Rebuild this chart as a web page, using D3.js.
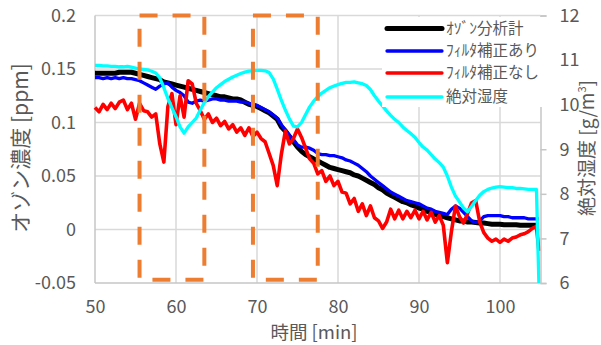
<!DOCTYPE html>
<html>
<head>
<meta charset="utf-8">
<script src="https://cdn.jsdelivr.net/npm/d3@7"></script>
<style>
  body { margin: 0; background: #fff; }
  svg { display: block; font-family: 'Noto Sans CJK JP', 'Noto Sans', sans-serif; }
</style>
</head>
<body>
<div id="chart"></div>
<script>
// sample times [min]
const times = [50,50.5,51,51.5,52,52.5,53,53.5,54,54.5,
  55,55.5,56,56.5,57,57.5,58,58.5,59,59.5,
  60,60.5,61,61.5,62,62.5,63,63.5,64,64.5,
  65,65.5,66,66.5,67,67.5,68,68.5,69,69.5,
  70,70.5,71,71.5,72,72.5,73,73.5,74,74.5,
  75,75.5,76,76.5,77,77.5,78,78.5,79,79.5,
  80,80.5,81,81.5,82,82.5,83,83.5,84,84.5,
  85,85.5,86,86.5,87,87.5,88,88.5,89,89.5,
  90,90.5,91,91.5,92,92.5,93,93.5,94,94.5,
  95,95.5,96,96.5,97,97.5,98,98.5,99,99.5,
  100,100.5,101,101.5,102,102.5,103,103.5,104,104.5,104.8];

// ozone analyzer [ppm]
const ozoneMeter = [.146,.146,.146,.146,.146,.146,.147,.147,.147,.147,
  .146,.145,.144,.143,.142,.141,.140,.138,.137,.136,
  .135,.134,.133,.132,.131,.130,.129,.128,.127,.126,
  .125,.124,.124,.123,.122,.122,.121,.119,.117,.116,
  .115,.113,.111,.109,.106,.103,.096,.092,.087,.082,
  .077,.073,.070,.068,.066,.064,.062,.060,.058,.057,
  .056,.055,.054,.053,.051,.050,.048,.046,.044,.042,
  .039,.037,.034,.032,.030,.028,.026,.025,.023,.022,
  .020,.019,.017,.016,.014,.013,.012,.011,.010,.009,
  .008,.008,.007,.007,.0065,.006,.006,.0055,.005,.005,
  .005,.0045,.0045,.0045,.0045,.004,.004,.004,.004,.004,.004];

// sensor with filter correction [ppm]
const withCorrection = [.142,.142,.141,.142,.141,.142,.141,.142,.141,.141,
  .140,.139,.137,.135,.133,.131,.134,.136,.137,.133,
  .130,.128,.125,.119,.118,.120,.121,.120,.121,.122,
  .122,.121,.121,.120,.120,.120,.119,.119,.118,.117,
  .116,.114,.112,.110,.107,.104,.098,.093,.088,.084,
  .079,.077,.077,.076,.074,.071,.070,.070,.069,.069,
  .068,.067,.065,.064,.062,.060,.057,.054,.050,.047,
  .044,.041,.038,.035,.033,.031,.029,.027,.026,.025,
  .024,.022,.020,.019,.017,.016,.015,.014,.019,.022,
  .020,.016,.012,.008,.0065,.008,.012,.013,.013,.013,
  .013,.012,.012,.011,.011,.011,.011,.010,.010,.010,.010];

// sensor without filter correction [ppm]
const withoutCorrection = [.114,.110,.117,.112,.118,.113,.119,.121,.112,.118,
  .103,.118,.111,.110,.105,.108,.080,.063,.115,.127,
  .098,.125,.105,.139,.136,.118,.111,.103,.108,.100,
  .104,.097,.101,.094,.098,.091,.095,.088,.095,.087,
  .091,.085,.082,.071,.060,.041,.070,.092,.080,.085,
  .094,.086,.076,.066,.062,.052,.055,.045,.050,.041,
  .045,.035,.034,.024,.029,.017,.024,.013,.022,.011,
  .008,.001,.007,.019,.010,.018,.010,.017,.011,.018,
  .010,.017,.009,.016,.007,.013,.004,-.031,-.002,.022,
  .012,.006,.015,.025,.027,.007,-.003,-.008,-.011,-.009,
  -.012,-.009,-.011,-.008,-.007,-.005,-.004,-.002,.001,.003,-.020];

// absolute humidity [g/m3]
const humidity = [10.88,10.88,10.87,10.87,10.86,10.86,10.85,10.85,10.86,10.84,
  10.82,10.80,10.79,10.78,10.75,10.71,10.60,10.38,10.14,9.93,
  9.73,9.50,9.36,9.50,9.60,9.70,9.88,10.05,10.18,10.28,
  10.38,10.45,10.52,10.57,10.62,10.66,10.70,10.73,10.75,10.76,
  10.77,10.77,10.76,10.72,10.58,10.35,10.10,9.88,9.68,9.52,
  9.50,9.60,9.78,9.95,10.08,10.18,10.26,10.32,10.38,10.42,
  10.45,10.48,10.50,10.50,10.51,10.49,10.47,10.43,10.34,10.20,
  10.08,9.97,9.86,9.76,9.67,9.60,9.50,9.42,9.35,9.27,
  9.15,9.05,8.98,8.88,8.78,8.70,8.60,8.40,8.15,7.95,
  7.82,7.68,7.60,7.72,7.85,7.97,8.05,8.10,8.13,8.15,
  8.16,8.15,8.14,8.14,8.12,8.12,8.11,8.10,8.10,8.10,6.0];

const seriesNames = ['ｵｿﾞﾝ分析計', 'ﾌｨﾙﾀ補正あり', 'ﾌｨﾙﾀ補正なし', '絶対湿度'];
const seriesColors = ['#000000', '#0000ff', '#ff0000', '#00ffff'];

// highlighted time windows (dashed boxes)
const boxStart = [55.5, 69.5];
const boxEnd = [63.5, 77.5];

const xTicks = [50, 60, 70, 80, 90, 100];
const yTicks = [-0.05, 0, 0.05, 0.1, 0.15, 0.2];
const yTickLabels = ['-0.05', '0', '0.05', '0.1', '0.15', '0.2'];
const y2Ticks = [6, 7, 8, 9, 10, 11, 12];

const W = 601, H = 345;
const plotL = 95, plotR = 540.5, plotT = 15.5, plotB = 283;
const textColor = '#595959', gridColor = '#d9d9d9', axisColor = '#c6c6c6';

const svg = d3.select('#chart').append('svg')
  .attr('width', W).attr('height', H);

const x = d3.scaleLinear().domain([50, 105]).range([plotL, plotR]);
const y = d3.scaleLinear().domain([-0.05, 0.2]).range([plotB, plotT]);
const y2 = d3.scaleLinear().domain([6, 12]).range([plotB, plotT]);

// grid
svg.append('g').selectAll('line')
  .data(yTicks.filter(d => d > -0.05))
  .join('line')
  .attr('x1', plotL).attr('x2', plotR)
  .attr('y1', d => y(d)).attr('y2', d => y(d))
  .attr('stroke', gridColor).attr('stroke-width', 1.5);

svg.append('g').selectAll('line')
  .data(xTicks.filter(d => d > 50))
  .join('line')
  .attr('x1', d => x(d)).attr('x2', d => x(d))
  .attr('y1', plotT).attr('y2', plotB)
  .attr('stroke', gridColor).attr('stroke-width', 1.5);

// axis lines
svg.append('line').attr('x1', plotL).attr('x2', plotL).attr('y1', plotT).attr('y2', plotB)
  .attr('stroke', axisColor).attr('stroke-width', 1.5);
svg.append('line').attr('x1', plotL).attr('x2', plotR).attr('y1', plotB).attr('y2', plotB)
  .attr('stroke', axisColor).attr('stroke-width', 1.5);

// series
const pts = vals => times.map((t, i) => [t, vals[i]]);
const line1 = d3.line().x(d => x(d[0])).y(d => y(d[1]));
const line2 = d3.line().x(d => x(d[0])).y(d => y2(d[1]));

const series = [
  { vals: ozoneMeter, gen: line1, w: 5 },
  { vals: withCorrection, gen: line1, w: 3.3 },
  { vals: withoutCorrection, gen: line1, w: 3.6 },
  { vals: humidity, gen: line2, w: 3.3 }
];
series.forEach((s, i) => {
  svg.append('path')
    .attr('d', s.gen(pts(s.vals)))
    .attr('fill', 'none')
    .attr('stroke', seriesColors[i])
    .attr('stroke-width', s.w)
    .attr('stroke-linejoin', 'round');
});

// right axis
const rightAxis = svg.append('g')
  .attr('transform', `translate(${plotR},0)`)
  .call(d3.axisRight(y2).tickValues(y2Ticks).tickSize(6).tickPadding(13).tickFormat(d3.format('d')));
rightAxis.select('.domain').attr('stroke', axisColor).attr('stroke-width', 1.5);
rightAxis.selectAll('.tick line').attr('stroke', axisColor).attr('stroke-width', 1.5);
rightAxis.selectAll('.tick text').attr('fill', textColor).style('font-size', '18px')
  .style('font-family', "'Noto Sans CJK JP', sans-serif");

// legend
const legend = svg.append('g');
legend.append('rect').attr('x', 382).attr('y', 17).attr('width', 166).attr('height', 90).attr('fill', '#fff');
const rowY = [28.5, 51, 73, 97];
seriesNames.forEach((name, i) => {
  legend.append('line')
    .attr('x1', 387).attr('x2', 442).attr('y1', rowY[i]).attr('y2', rowY[i])
    .attr('stroke', seriesColors[i]).attr('stroke-width', i === 0 ? 5 : 3.3)
    .attr('stroke-linecap', 'round');
  legend.append('text')
    .attr('x', 446).attr('y', rowY[i]).attr('dy', '0.35em')
    .attr('fill', textColor).style('font-size', '15.5px')
    .text(name);
});

// dashed boxes
boxStart.forEach((s, i) => {
  svg.append('rect')
    .attr('x', x(s)).attr('y', y(0.2))
    .attr('width', x(boxEnd[i]) - x(s)).attr('height', y(-0.047) - y(0.2))
    .attr('fill', 'none').attr('stroke', '#ed7d31').attr('stroke-width', 4)
    .attr('stroke-dasharray', '18,15');
});

// left axis labels
const leftAxis = svg.append('g')
  .attr('transform', `translate(${plotL},0)`)
  .call(d3.axisLeft(y).tickValues(yTicks).tickSize(0).tickPadding(19)
    .tickFormat((d, i) => yTickLabels[i]));
leftAxis.select('.domain').remove();
leftAxis.selectAll('.tick text').attr('fill', textColor).style('font-size', '18px')
  .style('font-family', "'Noto Sans CJK JP', sans-serif");

// bottom axis labels
const bottomAxis = svg.append('g')
  .attr('transform', `translate(0,${plotB})`)
  .call(d3.axisBottom(x).tickValues(xTicks).tickSize(0).tickFormat(d3.format('d')));
bottomAxis.select('.domain').remove();
bottomAxis.selectAll('.tick text').attr('y', 24).attr('dy', '0.35em')
  .attr('fill', textColor).style('font-size', '18px')
  .style('font-family', "'Noto Sans CJK JP', sans-serif");

// titles
svg.append('text')
  .attr('transform', 'translate(21,148) rotate(-90)')
  .attr('text-anchor', 'middle').attr('dy', '0.35em')
  .attr('fill', textColor).style('font-size', '21px')
  .text('オゾン濃度 [ppm]');

svg.append('text')
  .attr('x', 314).attr('y', 333).attr('dy', '0.35em')
  .attr('text-anchor', 'middle')
  .attr('fill', textColor).style('font-size', '18.5px')
  .text('時間 [min]');

const rt = svg.append('text')
  .attr('transform', 'translate(588,148) rotate(-90)')
  .attr('text-anchor', 'middle').attr('dy', '0.32em')
  .attr('fill', textColor).style('font-size', '19px');
rt.append('tspan').text('絶対湿度 [g/m');
rt.append('tspan').attr('baseline-shift', 'super').style('font-size', '11px').text('3');
rt.append('tspan').text(']');
</script>
</body>
</html>
